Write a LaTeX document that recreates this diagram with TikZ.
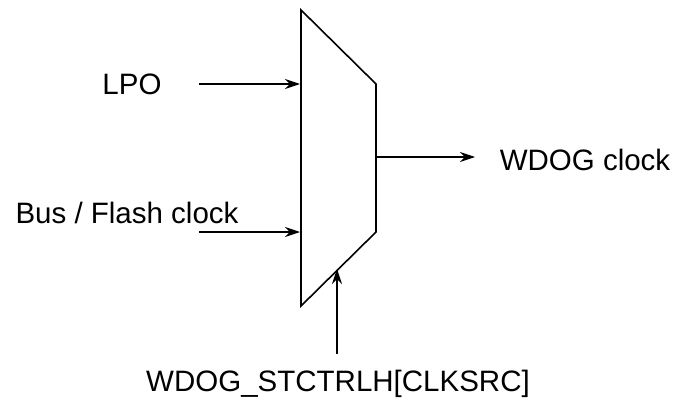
\documentclass[tikz,border=0pt]{standalone}
\usepackage{fontspec}
\setmainfont{Liberation Sans}
\usetikzlibrary{arrows.meta}
\tikzset{
    arrowline/.style={-{Stealth[length=15pt, width=10pt, inset=5pt]}, line width=1.5pt},
    lbl/.style={inner sep=0pt, font=\fontsize{29.5}{34}\selectfont}
}
\begin{document}
\begin{tikzpicture}[x=1pt, y=-1pt]
        \useasboundingbox (0, 0) rectangle (674, 401);
        \coordinate (ta) at (301, 10);
        \coordinate (tb) at (376, 84);
        \coordinate (bb) at (376, 232);
        \coordinate (ba) at (301, 306);
        \draw[line width=1.6pt, line join=miter] (ta) -- (tb) -- (bb) -- (ba) -- cycle;
        \node[lbl] (lpo) at (132, 84) {LPO};
        \node[lbl] (bus) at (127, 213) {Bus / Flash clock};
        \node[lbl] (wdog) at (585, 160) {WDOG clock};
        \node[lbl] (sel) at (338, 384) {WDOG\_STCTRLH[CLKSRC]};
        \coordinate (ina) at (300, 84);
        \coordinate (inb) at (300, 232);
        \coordinate (outa) at (376, 157);
        \coordinate (sela) at (337, 269);
        \coordinate (lpoe) at (199, 84);
        \coordinate (buse) at (199, 232);
        \coordinate (wdoge) at (475, 157);
        \coordinate (sele) at (337, 354);
        \draw[arrowline] (lpoe) -- (ina);
        \draw[arrowline] (buse) -- (inb);
        \draw[arrowline] (outa) -- (wdoge);
        \draw[arrowline] (sele) -- (sela);
    \end{tikzpicture}
\end{document}
